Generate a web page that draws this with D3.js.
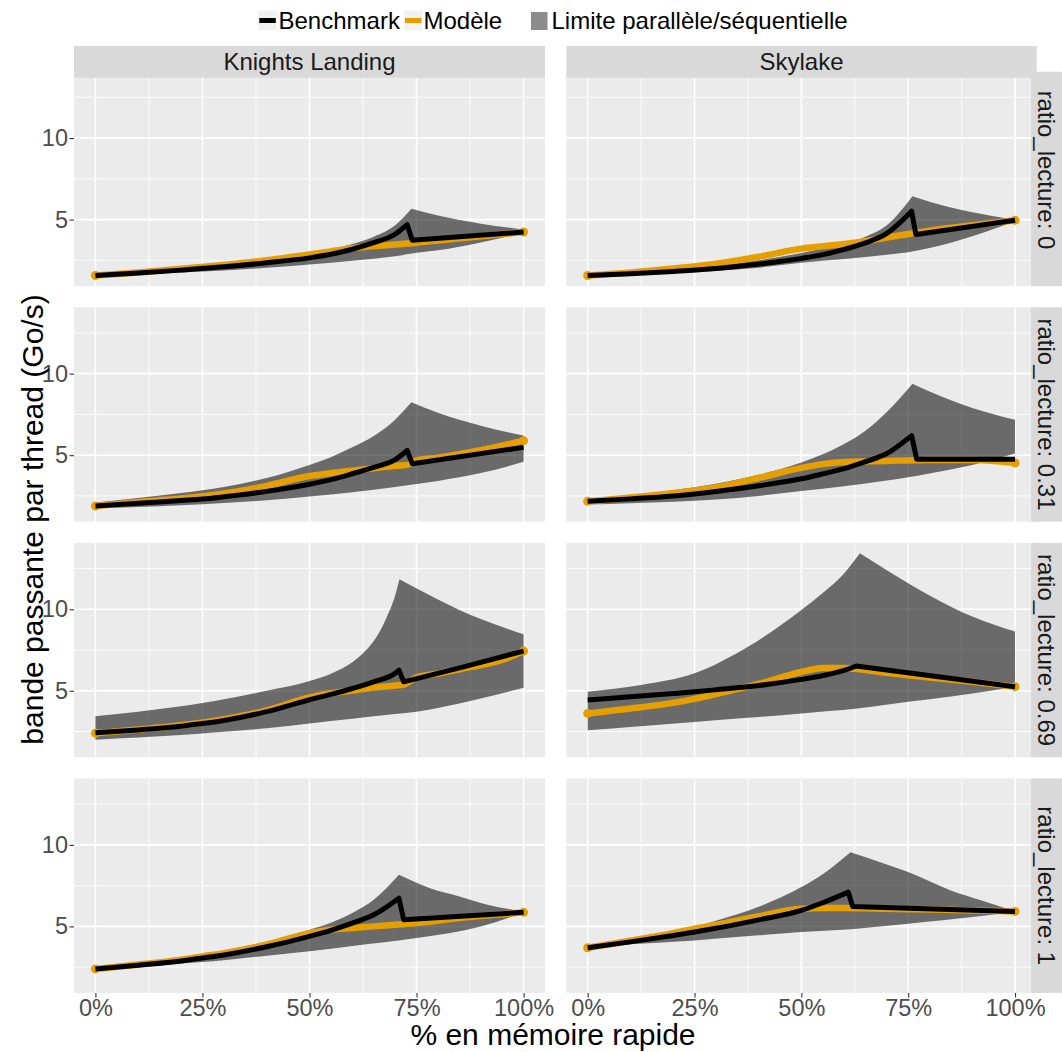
<!DOCTYPE html>
<html><head><meta charset="utf-8">
<script src="https://cdn.jsdelivr.net/npm/d3@7"></script>
<style>
body{margin:0;background:#fff}
svg{display:block}
text{font-family:"Liberation Sans",Arial,Helvetica,sans-serif}
</style>
</head><body>
<svg id="chart" width="1062" height="1052"></svg>
<script>
// ---------- data ----------
const machines = ["Knights Landing", "Skylake"];
const ratioLabels = ["ratio_lecture: 0", "ratio_lecture: 0.31", "ratio_lecture: 0.69", "ratio_lecture: 1"];
const xTicks = [0, 25, 50, 75, 100];
const xMinor = [12.5, 37.5, 62.5, 87.5];
const yTicks = [5, 10];
const yMinor = [2.5, 7.5, 12.5];
const legendLabels = ["Benchmark", "Modèle", "Limite parallèle/séquentielle"];
const xTitle = "% en mémoire rapide";
const yTitle = "bande passante par thread (Go/s)";

// Knights Landing, ratio_lecture 0
const benchKNL0 = [[0,1.57],[10,1.72],[20,1.9],[30,2.1],[40,2.35],[50,2.65],[55,2.87],[60,3.18],[65,3.58],[70,4.1],[72.8,4.69],[74,3.73],[100,4.24]];
const modelKNL0 = [[0,1.57],[10,1.76],[20,1.98],[30,2.22],[40,2.5],[50,2.86],[55,3.05],[60,3.24],[65,3.38],[70,3.47],[75,3.58],[80,3.72],[90,3.98],[100,4.24]];
const upperKNL0 = [[0,1.6],[10,1.76],[20,1.96],[30,2.2],[40,2.5],[50,2.9],[55,3.17],[60,3.5],[65,3.95],[70,4.65],[73.8,5.67],[80,5.25],[90,4.75],[100,4.39]];
const lowerKNL0 = [[0,1.55],[10,1.64],[20,1.75],[30,1.88],[40,2.04],[50,2.24],[60,2.47],[70,2.75],[75,2.96],[80,3.12],[90,3.6],[100,4.18]];
// Skylake, ratio_lecture 0
const benchSKL0 = [[0,1.57],[10,1.68],[20,1.82],[30,2.0],[40,2.27],[50,2.62],[55,2.85],[60,3.17],[65,3.57],[70,4.15],[75.8,5.51],[76.8,4.08],[100,4.96]];
const modelSKL0 = [[0,1.57],[10,1.76],[20,2.0],[30,2.3],[40,2.72],[50,3.22],[55,3.36],[60,3.5],[65,3.68],[70,3.9],[75,4.12],[80,4.32],[90,4.65],[100,4.96]];
const upperSKL0 = [[0,1.6],[10,1.74],[20,1.92],[30,2.15],[40,2.5],[50,2.95],[55,3.22],[60,3.5],[65,3.95],[70,4.65],[76,6.43],[80,6.1],[90,5.45],[100,5.0]];
const lowerSKL0 = [[0,1.55],[10,1.62],[20,1.72],[30,1.85],[40,2.05],[50,2.35],[60,2.58],[70,2.85],[75,3.0],[80,3.25],[90,3.98],[100,4.9]];
// Knights Landing, ratio_lecture 0.31
const benchKNL1 = [[0,1.88],[10,2.05],[20,2.22],[25,2.31],[30,2.45],[40,2.78],[50,3.22],[55,3.5],[60,3.86],[65,4.25],[70,4.73],[72.8,5.29],[74,4.48],[100,5.48]];
const modelKNL1 = [[0,1.88],[10,2.12],[20,2.34],[30,2.65],[40,3.12],[50,3.72],[55,3.9],[60,4.05],[65,4.2],[70,4.35],[73,4.42],[75,4.68],[80,4.85],[90,5.3],[100,5.89]];
const upperKNL1 = [[0,2.1],[10,2.38],[20,2.68],[30,3.05],[40,3.6],[50,4.4],[55,4.88],[60,5.48],[65,6.18],[70,7.18],[73.8,8.24],[80,7.6],[90,6.8],[100,6.2]];
const lowerKNL1 = [[0,1.74],[10,1.82],[20,1.93],[30,2.06],[40,2.24],[50,2.47],[60,2.72],[70,3.05],[75,3.23],[80,3.42],[90,3.9],[100,4.59]];
// Skylake, ratio_lecture 0.31
const benchSKL1 = [[0,2.17],[10,2.32],[20,2.5],[25,2.62],[30,2.77],[40,3.12],[50,3.55],[55,3.85],[60,4.17],[65,4.6],[70,5.1],[75.8,6.2],[77,4.75],[100,4.75]];
const modelSKL1 = [[0,2.17],[10,2.4],[20,2.68],[30,3.02],[40,3.6],[50,4.22],[55,4.45],[60,4.58],[65,4.62],[70,4.65],[75,4.68],[80,4.7],[90,4.7],[95,4.65],[100,4.52]];
const upperSKL1 = [[0,2.31],[10,2.55],[20,2.85],[30,3.25],[40,3.8],[50,4.55],[55,5.05],[60,5.68],[65,6.5],[70,7.65],[76,9.38],[80,8.9],[90,7.9],[100,7.17]];
const lowerSKL1 = [[0,1.97],[10,2.05],[20,2.15],[30,2.28],[40,2.5],[50,2.8],[60,3.1],[70,3.45],[75,3.65],[80,3.88],[90,4.4],[100,5.1]];
// Knights Landing, ratio_lecture 0.69
const benchKNL2 = [[0,2.42],[10,2.6],[20,2.83],[25,2.99],[30,3.18],[40,3.72],[50,4.45],[55,4.78],[60,5.14],[65,5.55],[70,6.07],[70.9,6.27],[72,5.55],[86,6.47],[100,7.44]];
const modelKNL2 = [[0,2.4],[10,2.62],[20,2.88],[30,3.25],[40,3.8],[50,4.6],[55,4.85],[60,5.02],[65,5.2],[70,5.32],[72,5.38],[75,5.82],[80,6.05],[85,6.32],[90,6.58],[95,6.9],[100,7.44]];
const upperKNL2 = [[0,3.44],[10,3.72],[20,4.05],[25,4.25],[30,4.48],[40,5.0],[50,5.6],[55,6.05],[60,6.75],[62.5,7.3],[65,8.05],[68,9.5],[70,10.85],[71,11.84],[80,10.6],[85,9.96],[90,9.4],[100,8.46]];
const lowerKNL2 = [[0,2.0],[10,2.13],[20,2.29],[25,2.38],[30,2.48],[40,2.7],[50,2.99],[60,3.28],[70,3.57],[75,3.71],[80,3.95],[90,4.53],[100,5.18]];
// Skylake, ratio_lecture 0.69
const benchSKL2 = [[0,4.43],[10,4.63],[20,4.83],[25,4.94],[30,5.06],[40,5.32],[50,5.7],[55,5.93],[60,6.25],[62.8,6.52],[100,5.25]];
const modelSKL2 = [[0,3.61],[10,3.91],[20,4.26],[25,4.5],[30,4.8],[40,5.42],[50,6.15],[55,6.4],[60,6.4],[63,6.33],[70,6.1],[80,5.82],[90,5.55],[100,5.25]];
const upperSKL2 = [[0,4.94],[12.5,5.35],[25,6.07],[37.5,7.7],[50,9.95],[55,11.0],[60,12.2],[63.7,13.44],[70,12.4],[75,11.6],[85,10.16],[90,9.55],[100,8.63]];
const lowerSKL2 = [[0,2.58],[10,2.78],[25,3.09],[37.5,3.34],[50,3.61],[63,3.91],[75,4.32],[85,4.65],[90,4.84],[100,5.25]];
// Knights Landing, ratio_lecture 1
const benchKNL3 = [[0,2.39],[10,2.62],[20,2.88],[25,3.06],[30,3.25],[40,3.75],[50,4.39],[55,4.76],[60,5.2],[65,5.71],[70.9,6.73],[72,5.41],[100,5.86]];
const modelKNL3 = [[0,2.39],[10,2.66],[20,2.96],[25,3.16],[30,3.36],[40,3.88],[50,4.59],[55,4.8],[60,4.9],[65,5.0],[70,5.1],[75,5.2],[85,5.51],[95,5.75],[100,5.86]];
const upperKNL3 = [[0,2.45],[10,2.72],[20,3.02],[25,3.27],[30,3.5],[40,4.08],[50,4.8],[55,5.22],[60,5.82],[65,6.63],[70.9,8.16],[78,7.35],[85,6.84],[92,6.3],[100,5.92]];
const lowerKNL3 = [[0,2.35],[10,2.5],[20,2.72],[25,2.82],[30,2.93],[40,3.2],[50,3.47],[60,3.8],[75,4.29],[90,5.0],[100,5.86]];
// Skylake, ratio_lecture 1
const benchSKL3 = [[0,3.69],[10,4.05],[20,4.44],[25,4.65],[30,4.88],[40,5.4],[50,5.98],[55,6.45],[61,7.1],[62,6.22],[100,5.92]];
const modelSKL3 = [[0,3.69],[10,4.12],[20,4.58],[25,4.86],[30,5.1],[40,5.62],[50,6.08],[55,6.12],[60,6.12],[70,6.08],[80,6.03],[90,5.98],[100,5.92]];
const upperSKL3 = [[0,3.69],[10,4.1],[20,4.6],[25,4.96],[30,5.35],[40,6.2],[50,7.41],[55,8.2],[61.5,9.55],[70,8.8],[75,8.33],[85,7.2],[92,6.6],[100,5.92]];
const lowerSKL3 = [[0,3.69],[10,3.9],[25,4.14],[40,4.45],[50,4.65],[63,4.86],[75,5.16],[90,5.57],[100,5.92]];

const panels = [
  {col:0,row:0,bench:benchKNL0,model:modelKNL0,upper:upperKNL0,lower:lowerKNL0},
  {col:1,row:0,bench:benchSKL0,model:modelSKL0,upper:upperSKL0,lower:lowerSKL0},
  {col:0,row:1,bench:benchKNL1,model:modelKNL1,upper:upperKNL1,lower:lowerKNL1},
  {col:1,row:1,bench:benchSKL1,model:modelSKL1,upper:upperSKL1,lower:lowerSKL1},
  {col:0,row:2,bench:benchKNL2,model:modelKNL2,upper:upperKNL2,lower:lowerKNL2},
  {col:1,row:2,bench:benchSKL2,model:modelSKL2,upper:upperSKL2,lower:lowerSKL2},
  {col:0,row:3,bench:benchKNL3,model:modelKNL3,upper:upperKNL3,lower:lowerKNL3},
  {col:1,row:3,bench:benchSKL3,model:modelSKL3,upper:upperSKL3,lower:lowerSKL3}
];

// ---------- layout ----------
const colX = [[74.0, 545.0], [566.3, 1036.4]];
const rowTop = [71.7, 307.3, 542.9, 778.5];
const panelH = 214.4;
const xDomain = [-5, 105];
const yDomain = [0.92, 14.07];
const ORANGE = "#E69F00";

const svg = d3.select("#chart");
svg.append("rect").attr("width",1062).attr("height",1052).attr("fill","#fff");

const xScales = colX.map(r => d3.scaleLinear().domain(xDomain).range(r));
const yScales = rowTop.map(t => d3.scaleLinear().domain(yDomain).range([t + panelH, t]));

// smooth pieces, split at the first local peak; with dropSplit the fall after the peak is straight
function seriesPath(data, x, y, split, dropSplit) {
  const smooth = d3.line().x(d => x(d[0])).y(d => y(d[1])).curve(d3.curveMonotoneX);
  const straight = d3.line().x(d => x(d[0])).y(d => y(d[1]));
  if (!split) return smooth(data);
  const i = data.findIndex((d, k) => k < data.length - 1 && data[k + 1][1] < d[1]);
  if (i <= 0 || i >= data.length - 1) return smooth(data);
  let s = smooth(data.slice(0, i + 1));
  if (dropSplit) {
    s += straight(data.slice(i, i + 2)).replace(/^M/, "L");
    const rest = data.slice(i + 1);
    if (rest.length > 1) s += smooth(rest).replace(/^M/, "L");
  } else {
    s += smooth(data.slice(i)).replace(/^M/, "L");
  }
  return s;
}

panels.forEach(p => {
  const x = xScales[p.col], y = yScales[p.row];
  const g = svg.append("g");
  const [x0, x1] = x.range();
  const [yb, yt] = y.range();
  g.append("rect").attr("x", x0).attr("y", yt).attr("width", x1 - x0).attr("height", yb - yt).attr("fill", "#ebebeb");
  g.selectAll(".vmin").data(xMinor).enter().append("line")
    .attr("x1", d => x(d)).attr("x2", d => x(d)).attr("y1", yt).attr("y2", yb)
    .attr("stroke", "#fff").attr("stroke-width", 0.8);
  g.selectAll(".hmin").data(yMinor).enter().append("line")
    .attr("y1", d => y(d)).attr("y2", d => y(d)).attr("x1", x0).attr("x2", x1)
    .attr("stroke", "#fff").attr("stroke-width", 0.8);
  g.selectAll(".vmaj").data(xTicks).enter().append("line")
    .attr("x1", d => x(d)).attr("x2", d => x(d)).attr("y1", yt).attr("y2", yb)
    .attr("stroke", "#fff").attr("stroke-width", 1.6);
  g.selectAll(".hmaj").data(yTicks).enter().append("line")
    .attr("y1", d => y(d)).attr("y2", d => y(d)).attr("x1", x0).attr("x2", x1)
    .attr("stroke", "#fff").attr("stroke-width", 1.6);

  // ribbon
  const lowerLine = d3.line().x(d => x(d[0])).y(d => y(d[1])).curve(d3.curveMonotoneX);
  const ribbon = seriesPath(p.upper, x, y, true, false) +
    lowerLine(p.lower.slice().reverse()).replace(/^M/, "L") + "Z";
  g.append("path").attr("d", ribbon).attr("fill", "#000").attr("fill-opacity", 0.55);

  // model
  g.append("path").attr("d", seriesPath(p.model, x, y, false, false))
    .attr("fill", "none").attr("stroke", ORANGE).attr("stroke-width", 6.5)
    .attr("stroke-linejoin", "round").attr("stroke-linecap", "round");
  g.selectAll(".mpt").data([p.model[0], p.model[p.model.length - 1]]).enter().append("circle")
    .attr("cx", d => x(d[0])).attr("cy", d => y(d[1])).attr("r", 4.5).attr("fill", ORANGE);

  // benchmark
  g.append("path").attr("d", seriesPath(p.bench, x, y, true, true))
    .attr("fill", "none").attr("stroke", "#000").attr("stroke-width", 5)
    .attr("stroke-linejoin", "round");
});

// axes
function styleAxis(sel) {
  sel.select(".domain").remove();
  sel.selectAll(".tick line").attr("stroke", "#333").attr("stroke-width", 1.1);
  sel.selectAll(".tick text").attr("fill", "#4d4d4d").style("font-size", "23.5px")
    .style("font-family", "'Liberation Sans', Arial, sans-serif");
}
rowTop.forEach((t, r) => {
  const ax = svg.append("g").attr("transform", `translate(${colX[0][0]},0)`)
    .call(d3.axisLeft(yScales[r]).tickValues(yTicks).tickSize(4.5).tickPadding(1.5));
  styleAxis(ax);
});
xScales.forEach(x => {
  const ax = svg.append("g").attr("transform", `translate(0,${rowTop[3] + panelH})`)
    .call(d3.axisBottom(x).tickValues(xTicks).tickFormat(d => d + "%").tickSize(4.5).tickPadding(2.3));
  styleAxis(ax);
});

// top strips
machines.forEach((m, c) => {
  const x0 = colX[c][0], x1 = c === 1 ? 1036.7 : colX[c][1];
  svg.append("rect").attr("x", x0).attr("y", 46).attr("width", x1 - x0).attr("height", 31.7).attr("fill", "#d9d9d9");
  svg.append("text").attr("x", (x0 + x1) / 2).attr("y", 62).attr("dy", "0.35em")
    .attr("text-anchor", "middle").attr("fill", "#1a1a1a").style("font-size", "24px").text(m);
});
// right strips
ratioLabels.forEach((lab, r) => {
  const t = rowTop[r];
  svg.append("rect").attr("x", 1031).attr("y", t).attr("width", 31).attr("height", panelH).attr("fill", "#d9d9d9");
  const cy = r === 0 ? 170 : t + panelH / 2;
  svg.append("text").attr("transform", `translate(1046.5,${cy}) rotate(90)`).attr("dy", "0.35em")
    .attr("text-anchor", "middle").attr("fill", "#1a1a1a").style("font-size", "24px").text(lab);
});

// titles
svg.append("text").attr("x", 553).attr("y", 1045).attr("text-anchor", "middle")
  .attr("fill", "#000").style("font-size", "30px").text(xTitle);
svg.append("text").attr("transform", "translate(43,519.5) rotate(-90)").attr("text-anchor", "middle")
  .attr("fill", "#000").style("font-size", "30px").text(yTitle);

// legend
const lg = svg.append("g");
const keyXs = [258.3, 404];
[ "#000", ORANGE ].forEach((col, i) => {
  lg.append("rect").attr("x", keyXs[i]).attr("y", 10.5).attr("width", 18.5).attr("height", 19.5).attr("fill", "#f2f2f2");
  lg.append("line").attr("x1", keyXs[i] + 1).attr("x2", keyXs[i] + 17.5).attr("y1", 20.5).attr("y2", 20.5)
    .attr("stroke", col).attr("stroke-width", 5);
});
lg.append("rect").attr("x", 531).attr("y", 12).attr("width", 16.5).attr("height", 18).attr("fill", "#8c8c8c");
const legTextX = [278.5, 423.5, 551.5];
legendLabels.forEach((l, i) => {
  lg.append("text").attr("x", legTextX[i]).attr("y", 28.5).attr("fill", "#000").style("font-size", "24px").text(l);
});
</script>
</body></html>
